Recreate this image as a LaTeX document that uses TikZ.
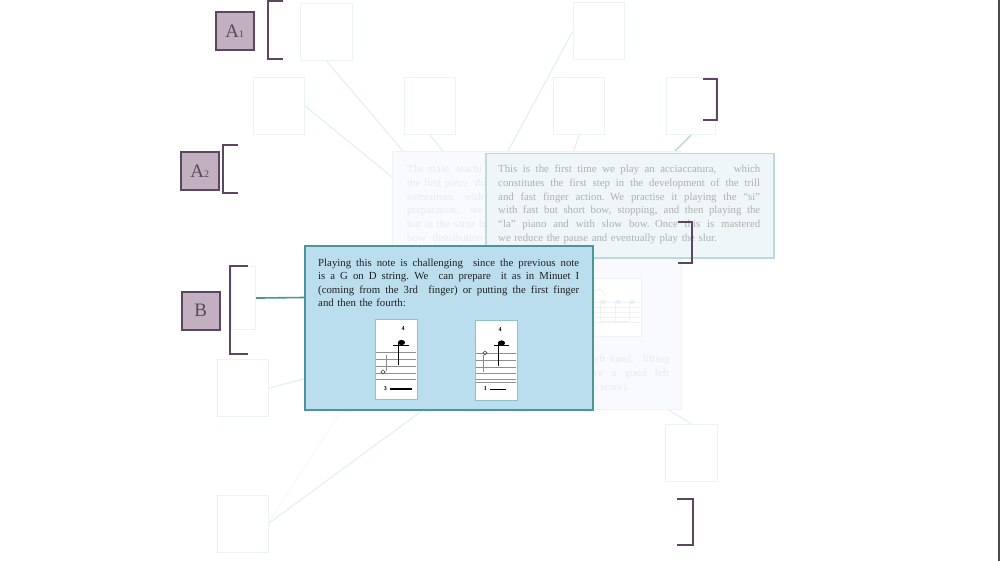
\documentclass[tikz,border=0pt]{standalone}
\usepackage{fontspec}
\setmainfont{Liberation Serif}
\definecolor{fboxc}{HTML}{EAF4F1}
\definecolor{flinec}{HTML}{E4F1ED}
\definecolor{brkc}{HTML}{5D4660}
\definecolor{labc}{HTML}{C2B0C0}
\definecolor{backfill}{HTML}{F8FAFD}
\definecolor{backdraw}{HTML}{EDF4F4}
\definecolor{frontfill}{HTML}{EEF6FA}
\definecolor{frontdraw}{HTML}{BCDADB}
\definecolor{popfill}{HTML}{BBDEEF}
\definecolor{popdraw}{HTML}{4B9698}
\definecolor{fronttext}{HTML}{B0B0B0}
\definecolor{backtext}{HTML}{E8ECF0}
\definecolor{imgdraw}{HTML}{8EC4C7}
\definecolor{staffc}{HTML}{8F8F8F}
\newcommand{\jline}[2]{\leavevmode\hbox to #1{\spaceskip=0.25em plus 3em minus 0.05em\relax #2}}
\begin{document}
\begin{tikzpicture}[x=1pt,y=-1pt,
  fbox/.style={draw=fboxc, line width=1.1pt, fill=white, minimum width=51pt, minimum height=57pt, inner sep=0pt, anchor=north west},
  fline/.style={draw=flinec, line width=1.2pt},
  brk/.style={draw=brkc, line width=1.8pt},
  lab/.style={draw=brkc, fill=labc, line width=1.6pt, minimum width=38pt, minimum height=38pt, inner sep=0pt, anchor=north west, text=brkc, font=\fontsize{19}{20}\selectfont},
  imgbox/.style={draw=imgdraw, fill=white, line width=1pt, minimum width=42pt, minimum height=80pt, inner sep=0pt, anchor=north west},
  staffl/.style={draw=staffc, line width=0.7pt},
  tiny/.style={inner sep=0pt, font=\bfseries\fontsize{6}{6}\selectfont},
  txt/.style={anchor=north west, inner sep=0pt, align=left, font=\fontsize{10.8}{13.7}\selectfont}
]
\useasboundingbox (0,0) rectangle (1000,561);
\fill[white] (0,0) rectangle (1000,561);

% faint boxes
\node[fbox, minimum width=52pt] (b1) at (300,3) {};
\node[fbox] (b2) at (253,77) {};
\node[fbox] (b3) at (404,77) {};
\node[fbox] (b4) at (573,2) {};
\node[fbox] (b5) at (553,77) {};
\node[fbox, minimum width=49pt] (b6) at (666,77) {};
\node[fbox, minimum width=24pt, minimum height=63pt] (b7) at (231,266) {};
\node[fbox] (b8) at (217,359) {};
\node[fbox] (b9) at (217,495) {};
\node[fbox, minimum width=52pt] (b10) at (665,424) {};

% connector end points
\coordinate (c1) at (403,151);
\coordinate (c2) at (392,177);
\coordinate (c3) at (443,151);
\coordinate (c4) at (508,151);
\coordinate (c5) at (573,153);
\coordinate (c6) at (673,153);
\coordinate (c8) at (304,379);
\coordinate (c9a) at (423,410);
\coordinate (c9b) at (343,408);
\coordinate (c10) at (667,409);

\draw[fline] (b1.south) -- (c1);
\draw[fline] (b2.east) -- (c2);
\draw[fline] (b3.south) -- (c3);
\draw[fline] (b4.west) -- (c4);
\draw[fline] (b5.south) -- (c5);
\draw[draw=frontdraw, line width=1.5pt] (b6.south) -- (c6);
\draw[fline] (b8.east) -- (c8);
\draw[fline] ([yshift=-28pt]b9.north east) -- (c9a);
\draw[draw=flinec!45, line width=0.8pt] ([yshift=-27pt]b9.north east) -- (c9b);
\draw[fline] (b10.north) -- (c10);

% back box
\node[draw=backdraw, fill=backfill, line width=1.2pt, minimum width=289pt, minimum height=258pt, inner sep=0pt, anchor=north west] (back) at (392,151) {};
\node[txt, text width=90pt, text=backtext] (backtxt) at (407,165)
  {The main~ teachi\\the first piece~ tha\\sometimes~~ with\\preparation,~~ we\\but in the same b\\bow~ distribution};
% faint score in back box
\node[draw=backdraw, fill=white, line width=1pt, minimum width=51pt, minimum height=58pt, inner sep=0pt, anchor=north west] (backimg) at (590,278) {};
\foreach \yy in {302,307,312,317,322} \draw[draw=backdraw, line width=0.7pt] (591,\yy) -- (640,\yy);
\draw[draw=backtext!70, line width=0.9pt] (592,296) .. controls (597,286) and (603,288) .. (605,296);
\foreach \xx in {603,618,632} {
  \fill[backtext!80] (\xx,302) ellipse [x radius=3, y radius=2.2];
  \draw[draw=backtext!70, line width=0.8pt] (\xx-2.5,303) -- (\xx-2.5,322);
}
\draw[draw=backtext!70, line width=2pt] (600,322) -- (630,322);
\node[anchor=base west, inner sep=0pt, text=backtext, font=\fontsize{10.8}{13.7}\selectfont] (bl1) at (591,362) {\jline{78pt}{left hand,~ lifting}};
\node[anchor=base west, inner sep=0pt, text=backtext, font=\fontsize{10.8}{13.7}\selectfont] (bl2) at (593,376) {\jline{76pt}{ve a good left}};
\node[anchor=base west, inner sep=0pt, text=backtext, font=\fontsize{10.8}{13.7}\selectfont] (bl3) at (592,390) {n score).};

% front box
\node[draw=frontdraw, fill=frontfill, line width=1.5pt, minimum width=288pt, minimum height=104pt, inner sep=0pt, anchor=north west] (front) at (485,153) {};
\node[txt, text width=262pt, text=fronttext] (fronttxt) at (498,165)
  {\jline{262pt}{This is the first time we play an acciaccatura,~~ which}\\
   \jline{262pt}{constitutes the first step in the development of the trill}\\
   \jline{262pt}{and fast finger action. We practise it playing the “si”}\\
   \jline{262pt}{with fast but short bow, stopping, and then playing the}\\
   \jline{262pt}{“la” piano and with slow bow. Once this is mastered}\\
   we reduce the pause and eventually play the slur.};

% teal connector B
\coordinate (cb) at (304,297.5);
\draw[draw=popdraw, line width=1.6pt] (b7.east) -- (cb);

% popup
\node[draw=popdraw, fill=popfill, line width=2pt, minimum width=288pt, minimum height=164pt, inner sep=0pt, anchor=north west] (popup) at (304,245) {};
\node[txt, text width=261pt, text=black!88, font=\fontsize{10.8}{13.5}\selectfont] (poptxt) at (318,258.5)
  {\jline{261pt}{Playing this note is challenging~ since the previous note}\\
   \jline{261pt}{is a G on D string. We~ can prepare~ it as in Minuet I}\\
   \jline{261pt}{(coming from the 3rd~ finger) or putting the first finger}\\
   and then the fourth:};

% score image 1
\node[imgbox] (m1) at (375,319) {};
\foreach \yy in {352,359,366,373,379} \draw[staffl] (376,\yy) -- (416,\yy);
\draw[line width=1pt] (393,345.5) -- (409,345.5);
\fill (401.5,342.5) ellipse [x radius=3.6, y radius=2.6];
\draw[line width=0.8pt] (398.5,343) -- (398.5,365);
\draw[draw=black!70, line width=0.6pt] (383,370) -- (385.2,372) -- (383,374) -- (380.8,372) -- cycle;
\draw[draw=black!45, line width=0.5pt] (386,371) -- (386,355);
\node[tiny] (m1f) at (403,329) {4};
\node[tiny, anchor=east] (m1n) at (387,389) {3};
\draw[line width=1.1pt] (390,389) -- (412,389);

% score image 2
\node[imgbox] (m2) at (475,320) {};
\foreach \yy in {353,360,367,373,379,382} \draw[staffl] (476,\yy) -- (516,\yy);
\draw[line width=1pt] (494,345.5) -- (509,345.5);
\fill (501.5,343) ellipse [x radius=3.6, y radius=2.6];
\draw[line width=0.8pt] (498,343.5) -- (498,366);
\draw[draw=black!70, line width=0.6pt] (485,351) -- (487.2,353) -- (485,355) -- (482.8,353) -- cycle;
\draw[draw=black!45, line width=0.5pt] (483.3,355) -- (483.3,372);
\node[tiny] (m2f) at (500,330) {4};
\node[tiny, anchor=east] (m2n) at (487,389) {1};
\draw[line width=0.9pt] (490,389) -- (506,389);

% brackets
\draw[brk] (283,1) -- (268,1) -- (268,59) -- (283,59);
\draw[brk] (238,145) -- (223,145) -- (223,193) -- (238,193);
\draw[brk] (248,266) -- (230,266) -- (230,354) -- (248,354);
\draw[brk] (703,79) -- (717,79) -- (717,120) -- (703,120);
\draw[brk] (678,222) -- (692,222) -- (692,263) -- (678,263);
\draw[brk] (677,499) -- (693,499) -- (693,545) -- (677,545);

% labels
\node[lab] (la1) at (215,11) {A\fontsize{10}{10}\selectfont 1};
\node[lab] (la2) at (180,151) {A\fontsize{10}{10}\selectfont 2};
\node[lab] (lb) at (181,291) {B};

% right edge
\draw[draw=black!70, line width=2pt] (999,0) -- (999,561);
\end{tikzpicture}
\end{document}
